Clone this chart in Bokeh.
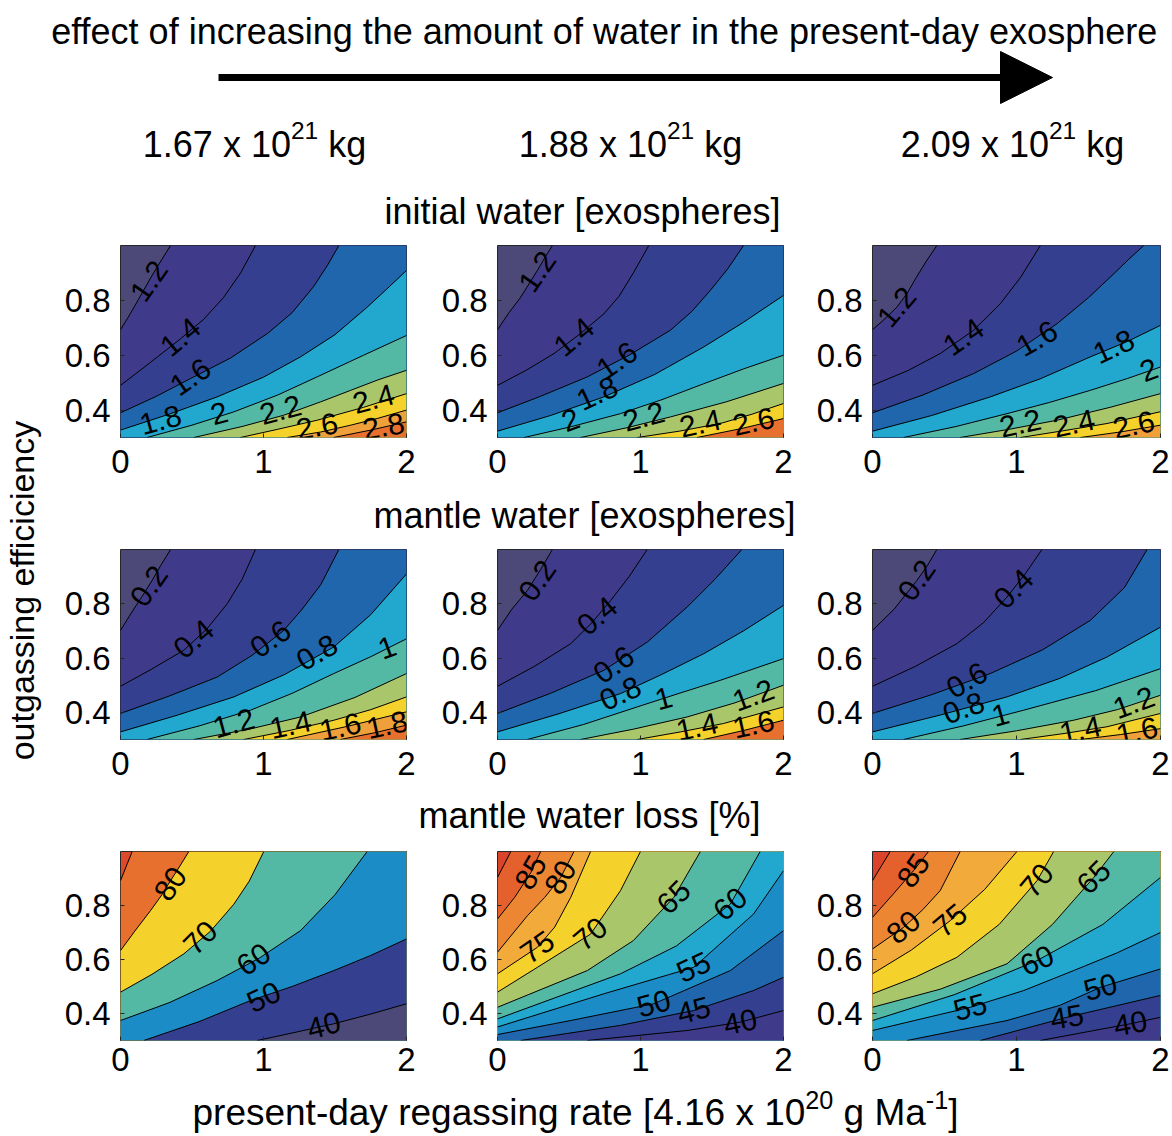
from bokeh.plotting import figure
from bokeh.layouts import row, column
from bokeh.models import Range1d, FixedTicker, Arrow, NormalHead
from bokeh.core.properties import value
from bokeh.embed import file_html
from bokeh.resources import INLINE

FONT = "Liberation Sans"

# ---------------- axes (shared by all nine panels) ----------------
X_TICKS = [0, 1, 2]
Y_TICKS = [0.4, 0.6, 0.8]
X_MIN, X_MAX = 0.0, 2.0
Y_MIN, Y_MAX = 0.3, 1.0

COL_HEADERS = [[("1.67 x 10", False), ("21", True), (" kg", False)],
               [("1.88 x 10", False), ("21", True), (" kg", False)],
               [("2.09 x 10", False), ("21", True), (" kg", False)]]
ROW_TITLES = ["initial water [exospheres]", "mantle water [exospheres]", "mantle water loss [%]"]
TITLE = "effect of increasing the amount of water in the present-day exosphere"
Y_LABEL = "outgassing efficiciency"
X_LABEL = [("present-day regassing rate [4.16 x 10", False), ("20", True), (" g Ma", False),
           ("-1", True), ("]", False)]

# ---------------- contour lines ----------------
# lines ordered from the top-left corner to the bottom-right corner
# ---- row 1: initial water [exospheres]
R1C1_LEVELS = [1.2, 1.4, 1.6, 1.8, 2.0, 2.2, 2.4, 2.6, 2.8]
R1C1_X = [[0, 0.05, 0.1, 0.16, 0.22, 0.29, 0.35],
          [0, 0.2, 0.42, 0.58, 0.72, 0.84, 0.944],
          [0, 0.25, 0.49, 0.77, 1.03, 1.2, 1.35, 1.45, 1.527],
          [0, 0.34, 0.676, 1.0, 1.259, 1.5, 1.725, 1.88, 2],
          [0.186, 0.5, 0.79, 1.1, 1.375, 1.7, 2],
          [0.513, 0.85, 1.14, 1.4, 1.61, 1.8, 2],
          [0.839, 1.1, 1.375, 1.7, 2],
          [1.166, 1.4, 1.61, 1.8, 2],
          [1.49, 1.75, 2]]
R1C1_Y = [[0.693, 0.735, 0.78, 0.835, 0.89, 0.95, 1.0],
          [0.49, 0.57, 0.66, 0.73, 0.81, 0.9, 1.0],
          [0.39, 0.45, 0.515, 0.59, 0.68, 0.755, 0.85, 0.93, 1.0],
          [0.327, 0.385, 0.448, 0.52, 0.594, 0.675, 0.775, 0.85, 0.909],
          [0.3, 0.345, 0.393, 0.455, 0.521, 0.6, 0.672],
          [0.3, 0.34, 0.381, 0.43, 0.472, 0.51, 0.545],
          [0.3, 0.33, 0.363, 0.41, 0.46],
          [0.3, 0.32, 0.345, 0.37, 0.4],
          [0.3, 0.327, 0.357]]
R1C1_LBL_T = ["1.2", "1.4", "1.6", "1.8", "2", "2.2", "2.4", "2.6", "2.8"]
R1C1_LBL_X = [0.2, 0.42, 0.49, 0.28, 0.69, 1.12, 1.77, 1.375, 1.84]
R1C1_LBL_Y = [0.87, 0.666, 0.52, 0.363, 0.387, 0.40, 0.44, 0.34, 0.34]
R1C1_LBL_A = [55, 40, 35, 15, 15, 15, 15, 10, 10]

R1C2_LEVELS = [1.2, 1.4, 1.6, 1.8, 2.0, 2.2, 2.4, 2.6]
R1C2_X = [[0, 0.08, 0.163, 0.22, 0.279, 0.33, 0.384],
          [0, 0.2, 0.395, 0.57, 0.744, 0.85, 0.95, 1.058],
          [0, 0.3, 0.628, 0.92, 1.209, 1.36, 1.488, 1.61, 1.721],
          [0, 0.37, 0.744, 1.1, 1.442, 1.72, 2],
          [0.186, 0.52, 0.86, 1.15, 1.442, 1.72, 2],
          [0.581, 0.9, 1.209, 1.6, 2],
          [0.977, 1.27, 1.558, 1.78, 2],
          [1.395, 1.7, 2]]
R1C2_Y = [[0.693, 0.755, 0.812, 0.86, 0.909, 0.955, 1.0],
          [0.49, 0.545, 0.606, 0.675, 0.751, 0.815, 0.9, 1.0],
          [0.39, 0.45, 0.521, 0.6, 0.691, 0.76, 0.836, 0.915, 1.0],
          [0.323, 0.38, 0.448, 0.53, 0.63, 0.72, 0.818],
          [0.3, 0.34, 0.387, 0.438, 0.496, 0.55, 0.6],
          [0.3, 0.335, 0.375, 0.43, 0.497],
          [0.3, 0.323, 0.351, 0.385, 0.424],
          [0.3, 0.332, 0.369]]
R1C2_LBL_T = ["1.2", "1.4", "1.6", "1.8", "2", "2.2", "2.4", "2.6"]
R1C2_LBL_X = [0.279, 0.535, 0.837, 0.698, 0.512, 1.023, 1.419, 1.79]
R1C2_LBL_Y = [0.905, 0.666, 0.58, 0.46, 0.363, 0.375, 0.351, 0.357]
R1C2_LBL_A = [55, 40, 35, 25, 20, 15, 12, 12]

R1C3_LEVELS = [1.2, 1.4, 1.6, 1.8, 2.0, 2.2, 2.4, 2.6]
R1C3_X = [[0, 0.08, 0.169, 0.24, 0.3, 0.37, 0.447],
          [0, 0.25, 0.47, 0.7, 0.888, 1.03, 1.166],
          [0, 0.35, 0.702, 1.0, 1.282, 1.5, 1.676, 1.78, 1.884],
          [0, 0.41, 0.818, 1.17, 1.513, 1.77, 2],
          [0.216, 0.58, 0.934, 1.23, 1.513, 1.77, 2],
          [0.609, 0.95, 1.282, 1.65, 2],
          [1.027, 1.33, 1.629, 2],
          [1.444, 1.72, 2]]
R1C3_Y = [[0.693, 0.73, 0.775, 0.825, 0.88, 0.94, 1.0],
          [0.49, 0.545, 0.606, 0.69, 0.788, 0.885, 1.0],
          [0.39, 0.455, 0.533, 0.615, 0.715, 0.81, 0.897, 0.95, 1.0],
          [0.323, 0.38, 0.448, 0.515, 0.594, 0.65, 0.709],
          [0.3, 0.34, 0.387, 0.428, 0.472, 0.515, 0.557],
          [0.3, 0.33, 0.363, 0.41, 0.46],
          [0.3, 0.325, 0.351, 0.394],
          [0.3, 0.32, 0.345]]
R1C3_LBL_T = ["1.2", "1.4", "1.6", "1.8", "2", "2.2", "2.4", "2.6"]
R1C3_LBL_X = [0.169, 0.633, 1.143, 1.676, 1.919, 1.027, 1.4, 1.815]
R1C3_LBL_Y = [0.775, 0.666, 0.66, 0.63, 0.545, 0.351, 0.351, 0.345]
R1C3_LBL_A = [50, 35, 30, 25, 20, 12, 12, 12]

# ---- row 2: mantle water [exospheres]
R2C1_LEVELS = [0.2, 0.4, 0.6, 0.8, 1.0, 1.2, 1.4, 1.6, 1.8]
R2C1_X = [[0, 0.08, 0.163, 0.22, 0.28, 0.35],
          [0, 0.22, 0.443, 0.6, 0.746, 0.85, 0.944],
          [0, 0.34, 0.676, 0.92, 1.142, 1.27, 1.4, 1.527],
          [0, 0.4, 0.793, 1.15, 1.492, 1.75, 2],
          [0.186, 0.55, 0.909, 1.2, 1.492, 1.75, 2],
          [0.513, 0.9, 1.259, 1.64, 2],
          [0.862, 1.18, 1.492, 1.75, 2],
          [1.166, 1.6, 2],
          [1.538, 1.78, 2]]
R2C1_Y = [[0.702, 0.77, 0.837, 0.885, 0.94, 1.0],
          [0.496, 0.56, 0.629, 0.705, 0.8, 0.89, 1.0],
          [0.396, 0.46, 0.53, 0.61, 0.702, 0.78, 0.87, 1.0],
          [0.328, 0.39, 0.457, 0.54, 0.641, 0.76, 0.91],
          [0.3, 0.35, 0.408, 0.47, 0.543, 0.605, 0.671],
          [0.3, 0.338, 0.383, 0.455, 0.543],
          [0.3, 0.333, 0.371, 0.41, 0.457],
          [0.3, 0.35, 0.402],
          [0.3, 0.325, 0.353]]
R2C1_LBL_T = ["0.2", "0.4", "0.6", "0.8", "1", "1.2", "1.4", "1.6", "1.8"]
R2C1_LBL_X = [0.2, 0.513, 1.05, 1.375, 1.865, 0.793, 1.189, 1.538, 1.865]
R2C1_LBL_Y = [0.865, 0.67, 0.67, 0.62, 0.638, 0.359, 0.353, 0.346, 0.353]
R2C1_LBL_A = [55, 40, 35, 30, 20, 15, 12, 12, 12]

R2C2_LEVELS = [0.2, 0.4, 0.6, 0.8, 1.0, 1.2, 1.4, 1.6]
R2C2_X = [[0, 0.1, 0.209, 0.3, 0.384],
          [0, 0.26, 0.512, 0.66, 0.791, 0.92, 1.047],
          [0, 0.37, 0.744, 1.05, 1.326, 1.52, 1.709],
          [0, 0.43, 0.86, 1.15, 1.442, 1.72, 2],
          [0.209, 0.6, 0.977, 1.27, 1.558, 2],
          [0.581, 0.95, 1.326, 1.66, 2],
          [0.977, 1.28, 1.581, 2],
          [1.442, 1.72, 2]]
R2C2_Y = [[0.702, 0.78, 0.849, 0.925, 1.0],
          [0.496, 0.57, 0.653, 0.73, 0.812, 0.9, 1.0],
          [0.396, 0.47, 0.555, 0.66, 0.788, 0.89, 1.0],
          [0.328, 0.395, 0.469, 0.54, 0.616, 0.7, 0.794],
          [0.3, 0.355, 0.42, 0.47, 0.518, 0.598],
          [0.3, 0.338, 0.383, 0.435, 0.5],
          [0.3, 0.328, 0.359, 0.42],
          [0.3, 0.333, 0.371]]
R2C2_LBL_T = ["0.2", "0.4", "0.6", "0.8", "1", "1.2", "1.4", "1.6"]
R2C2_LBL_X = [0.279, 0.698, 0.814, 0.86, 1.163, 1.79, 1.395, 1.79]
R2C2_LBL_Y = [0.885, 0.755, 0.575, 0.469, 0.45, 0.462, 0.346, 0.355]
R2C2_LBL_A = [55, 40, 35, 25, 15, 20, 12, 12]

R2C3_LEVELS = [0.2, 0.4, 0.6, 0.8, 1.0, 1.2, 1.4, 1.6]
R2C3_X = [[0, 0.15, 0.308, 0.38, 0.447],
          [0, 0.3, 0.586, 0.77, 0.934, 1.06, 1.177],
          [0, 0.41, 0.818, 1.18, 1.513, 1.75, 1.907],
          [0, 0.47, 0.934, 1.3, 1.629, 2],
          [0.216, 0.63, 1.05, 1.55, 2],
          [0.609, 1.0, 1.397, 1.7, 2],
          [1.027, 1.33, 1.629, 2],
          [1.444, 1.72, 2]]
R2C3_Y = [[0.702, 0.78, 0.886, 0.94, 1.0],
          [0.496, 0.57, 0.653, 0.73, 0.825, 0.91, 1.0],
          [0.396, 0.465, 0.543, 0.63, 0.739, 0.86, 1.0],
          [0.328, 0.39, 0.457, 0.525, 0.604, 0.714],
          [0.3, 0.35, 0.408, 0.48, 0.561],
          [0.3, 0.332, 0.371, 0.41, 0.463],
          [0.3, 0.322, 0.347, 0.396],
          [0.3, 0.318, 0.34]]
R2C3_LBL_T = ["0.2", "0.4", "0.6", "0.8", "1", "1.2", "1.4", "1.6"]
R2C3_LBL_X = [0.308, 0.98, 0.656, 0.633, 0.888, 1.815, 1.444, 1.838]
R2C3_LBL_Y = [0.886, 0.855, 0.518, 0.415, 0.39, 0.435, 0.335, 0.33]
R2C3_LBL_A = [55, 45, 30, 20, 15, 20, 12, 12]

# ---- row 3: mantle water loss [%]
R3C1_LEVELS = [90, 80, 70, 60, 50, 40]
R3C1_X = [[0, 0.04, 0.082],
          [0, 0.1, 0.21, 0.29, 0.35, 0.42, 0.478],
          [0, 0.22, 0.443, 0.63, 0.793, 0.9, 1.002],
          [0, 0.34, 0.676, 0.97, 1.259, 1.5, 1.725],
          [0.163, 0.55, 0.909, 1.2, 1.492, 1.75, 2],
          [0.956, 1.22, 1.492, 1.75, 2]]
R3C1_Y = [[0.892, 0.945, 1.0],
          [0.633, 0.705, 0.781, 0.84, 0.892, 0.95, 1.0],
          [0.479, 0.545, 0.621, 0.705, 0.805, 0.89, 1.0],
          [0.374, 0.44, 0.522, 0.605, 0.707, 0.84, 1.0],
          [0.3, 0.37, 0.448, 0.5, 0.559, 0.615, 0.676],
          [0.3, 0.33, 0.362, 0.398, 0.436]]
R3C1_LBL_T = ["80", "70", "60", "50", "40"]
R3C1_LBL_X = [0.35, 0.56, 0.932, 1.002, 1.422]
R3C1_LBL_Y = [0.88, 0.68, 0.6, 0.46, 0.355]
R3C1_LBL_A = [55, 45, 35, 25, 15]

R3C2_LEVELS = [90, 85, 80, 75, 70, 65, 60, 55, 50, 45, 40]
R3C2_X = [[0, 0.045, 0.093],
          [0, 0.12, 0.233, 0.302],
          [0, 0.209, 0.33, 0.442, 0.535],
          [0, 0.279, 0.4, 0.512, 0.651],
          [0, 0.279, 0.651, 0.86, 1.0],
          [0, 0.628, 0.95, 1.233, 1.419],
          [0, 0.86, 1.25, 1.628, 1.837],
          [0, 0.744, 1.372, 1.79, 2],
          [0, 0.512, 1.093, 1.628, 2],
          [0.163, 0.86, 1.372, 1.79, 2],
          [0.628, 1.326, 1.698, 2]]
R3C2_Y = [[0.904, 0.95, 1.0],
          [0.75, 0.83, 0.922, 1.0],
          [0.627, 0.762, 0.83, 0.904, 1.0],
          [0.547, 0.645, 0.72, 0.83, 1.0],
          [0.479, 0.571, 0.694, 0.855, 1.0],
          [0.423, 0.559, 0.67, 0.83, 1.0],
          [0.38, 0.547, 0.65, 0.805, 1.0],
          [0.35, 0.473, 0.571, 0.768, 0.929],
          [0.322, 0.374, 0.436, 0.559, 0.707],
          [0.3, 0.356, 0.411, 0.485, 0.534],
          [0.3, 0.337, 0.368, 0.411]]
R3C2_LBL_T = ["85", "80", "75", "70", "65", "60", "55", "50", "45", "40"]
R3C2_LBL_X = [0.233, 0.442, 0.279, 0.651, 1.233, 1.628, 1.372, 1.093, 1.372, 1.698]
R3C2_LBL_Y = [0.922, 0.904, 0.645, 0.694, 0.83, 0.805, 0.571, 0.436, 0.411, 0.368]
R3C2_LBL_A = [60, 60, 35, 40, 45, 40, 25, 15, 15, 12]

R3C3_LEVELS = [90, 85, 80, 75, 70, 65, 60, 55, 50, 45, 40]
R3C3_X = [[0, 0.06, 0.123],
          [0, 0.14, 0.285, 0.389],
          [0, 0.216, 0.35, 0.47, 0.609],
          [0, 0.27, 0.54, 0.78, 1.003],
          [0, 0.3, 0.586, 0.88, 1.143, 1.258],
          [0, 0.47, 0.934, 1.25, 1.537, 1.676],
          [0, 0.57, 1.143, 1.6, 2],
          [0, 0.679, 1.05, 1.397, 1.7, 2],
          [0.239, 0.934, 1.3, 1.583, 2],
          [0.749, 1.351, 2],
          [1.166, 1.791, 2]]
R3C3_Y = [[0.892, 0.945, 1.0],
          [0.756, 0.84, 0.929, 1.0],
          [0.639, 0.719, 0.785, 0.855, 1.0],
          [0.547, 0.635, 0.744, 0.86, 1.0],
          [0.473, 0.535, 0.608, 0.73, 0.892, 1.0],
          [0.423, 0.49, 0.584, 0.73, 0.904, 1.0],
          [0.374, 0.47, 0.596, 0.73, 0.904],
          [0.337, 0.423, 0.485, 0.559, 0.625, 0.7],
          [0.3, 0.374, 0.43, 0.497, 0.565],
          [0.3, 0.386, 0.467],
          [0.3, 0.362, 0.386]]
R3C3_LBL_T = ["85", "80", "75", "70", "65", "60", "55", "50", "45", "40"]
R3C3_LBL_X = [0.285, 0.216, 0.54, 1.143, 1.537, 1.143, 0.679, 1.583, 1.351, 1.791]
R3C3_LBL_Y = [0.929, 0.719, 0.744, 0.892, 0.904, 0.596, 0.423, 0.497, 0.386, 0.362]
R3C3_LBL_A = [55, 40, 40, 50, 45, 25, 15, 15, 10, 10]

# ---------------- colours (bands from top-left to bottom-right) ----------------
GP, PU, IN, BL = "#4c4979", "#403a8b", "#34408f", "#1f66ac"
CB, CY, TE, YG = "#1b8cc6", "#22a7cf", "#53b9a4", "#a9c76a"
YE, OR, RO, RD = "#f4d12b", "#efa03b", "#e8702f", "#db4a2b"
R90, R85, R80, R75 = "#d9442a", "#e4602d", "#ec8633", "#f2ab3b"
C_R1C1 = [GP, PU, IN, BL, CY, TE, YG, YE, OR, RO]
C_R1C2 = [GP, PU, IN, BL, CY, TE, YG, YE, RO]
C_R1C3 = [GP, PU, IN, BL, CY, TE, YG, YE, OR]
C_R2C1 = [GP, PU, IN, BL, CY, TE, YG, YE, OR, RO]
C_R2C2 = [GP, PU, IN, BL, CY, TE, YG, YE, RO]
C_R2C3 = [GP, PU, IN, BL, CY, TE, YG, YE, OR]
C_R3C1 = [RD, RO, YE, TE, CB, IN, GP]
C_R3C2 = [R90, R85, R80, R75, YE, YG, TE, CY, CB, BL, IN, PU]
C_R3C3 = [R90, R85, R80, R75, YE, YG, TE, CY, CB, BL, IN, PU]

# ---------------- helpers ----------------
ADV = {' ': 278, '-': 333, '.': 278, '[': 278, ']': 278, '%': 889, 'M': 833,
       'a': 556, 'b': 556, 'c': 500, 'd': 556, 'e': 556, 'f': 278, 'g': 556, 'h': 556,
       'i': 222, 'j': 222, 'k': 500, 'l': 222, 'm': 833, 'n': 556, 'o': 556, 'p': 556,
       'q': 556, 'r': 333, 's': 500, 't': 278, 'u': 556, 'v': 500, 'w': 722, 'x': 500,
       'y': 500, 'z': 500}
MID = 0.35  # distance from baseline to the middle of the em box, in em


def text_w(s, size):
    return sum(ADV.get(ch, 556) for ch in s) * size / 1000.0


def rich_text(p, pieces, cx, base, size, sup_scale=0.68, rise=0.5):
    sizes = [size * sup_scale if sup else size for _, sup in pieces]
    total = sum(text_w(t, fs) for (t, _), fs in zip(pieces, sizes))
    x = cx - total / 2.0
    for (t, sup), fs in zip(pieces, sizes):
        stripped = t.lstrip(' ')
        x += text_w(t[:len(t) - len(stripped)], fs)
        b = base + size * rise if sup else base
        p.text(x=[x], y=[b + MID * fs], text=[stripped], text_font=value(FONT),
               text_font_size=f"{fs:.1f}px", text_align="left", text_baseline="middle",
               text_color="black")
        x += text_w(stripped, fs)


def blank(w, h):
    p = figure(width=w, height=h, x_range=Range1d(0, w), y_range=Range1d(0, h),
               toolbar_location=None, output_backend="svg", x_axis_type=None, y_axis_type=None,
               min_border=0)
    p.outline_line_color = None
    p.grid.visible = False
    return p


def panel(xs, ys, colors, lt, lx, ly, la, width, height, bl, br, bt, bb, standoff):
    p = figure(width=width, height=height, x_range=Range1d(X_MIN, X_MAX),
               y_range=Range1d(Y_MIN, Y_MAX), toolbar_location=None, output_backend="svg",
               min_border_left=bl, min_border_right=br, min_border_top=bt, min_border_bottom=bb)
    p.background_fill_color = colors[0]
    p.grid.visible = False
    p.outline_line_color = "#262626"
    p.outline_line_width = 1
    polys_x, polys_y = [], []
    for lxs, lys in zip(xs, ys):
        px, py = list(lxs), list(lys)
        if lys[-1] >= Y_MAX - 1e-6:
            px.append(X_MAX); py.append(Y_MAX)
        px.append(X_MAX); py.append(Y_MIN)
        if lxs[0] <= X_MIN + 1e-6:
            px.append(X_MIN); py.append(Y_MIN)
        polys_x.append(px); polys_y.append(py)
    p.patches(xs=polys_x, ys=polys_y, fill_color=colors[1:], line_color=None)
    p.multi_line(xs=xs, ys=ys, line_color="black", line_width=1)
    p.text(x=lx, y=ly, text=lt, angle=la, angle_units="deg", text_font=value(FONT),
           text_font_size="30px", text_align="center", text_baseline="middle",
           text_color="black")
    p.xaxis.ticker = FixedTicker(ticks=X_TICKS)
    p.yaxis.ticker = FixedTicker(ticks=Y_TICKS)
    for ax in (p.xaxis[0], p.yaxis[0]):
        ax.axis_line_color = None
        ax.major_tick_in = 4
        ax.major_tick_out = 0
        ax.major_tick_line_color = "#262626"
        ax.minor_tick_line_color = None
        ax.major_label_text_font = FONT
        ax.major_label_text_font_size = "33px"
        ax.major_label_text_color = "black"
    p.xaxis.major_label_standoff = standoff
    p.yaxis.major_label_standoff = 10
    return p


# ---------------- layout (page pixels) ----------------
COL_W = [364, 375, 373]
COL_BL = [62, 75, 75]
COL_BR = [16, 14, 10]
ROW_H = [258, 254, 249]
ROW_BT = [13, 13, 15]
ROW_BB = [53, 51, 45]
ROW_STANDOFF = [12, 12, 7]

panels_data = [
    [(R1C1_X, R1C1_Y, C_R1C1, R1C1_LBL_T, R1C1_LBL_X, R1C1_LBL_Y, R1C1_LBL_A),
     (R1C2_X, R1C2_Y, C_R1C2, R1C2_LBL_T, R1C2_LBL_X, R1C2_LBL_Y, R1C2_LBL_A),
     (R1C3_X, R1C3_Y, C_R1C3, R1C3_LBL_T, R1C3_LBL_X, R1C3_LBL_Y, R1C3_LBL_A)],
    [(R2C1_X, R2C1_Y, C_R2C1, R2C1_LBL_T, R2C1_LBL_X, R2C1_LBL_Y, R2C1_LBL_A),
     (R2C2_X, R2C2_Y, C_R2C2, R2C2_LBL_T, R2C2_LBL_X, R2C2_LBL_Y, R2C2_LBL_A),
     (R2C3_X, R2C3_Y, C_R2C3, R2C3_LBL_T, R2C3_LBL_X, R2C3_LBL_Y, R2C3_LBL_A)],
    [(R3C1_X, R3C1_Y, C_R3C1, R3C1_LBL_T, R3C1_LBL_X, R3C1_LBL_Y, R3C1_LBL_A),
     (R3C2_X, R3C2_Y, C_R3C2, R3C2_LBL_T, R3C2_LBL_X, R3C2_LBL_Y, R3C2_LBL_A),
     (R3C3_X, R3C3_Y, C_R3C3, R3C3_LBL_T, R3C3_LBL_X, R3C3_LBL_Y, R3C3_LBL_A)],
]

rows = []
for r in range(3):
    figs = []
    for c in range(3):
        xs, ys, cols, lt, lx, ly, la = panels_data[r][c]
        figs.append(panel(xs, ys, cols, lt, lx, ly, la, COL_W[c], ROW_H[r],
                          COL_BL[c], COL_BR[c], ROW_BT[r], ROW_BB[r], ROW_STANDOFF[r]))
    rows.append(row(*figs, spacing=0))

LEFT_W = 58
TOTAL_W = LEFT_W + sum(COL_W)
RIGHT_W = TOTAL_W - LEFT_W
FS = 36

# header (page y 0..232)
HEAD_H = 232
header = blank(TOTAL_W, HEAD_H)
rich_text(header, [(TITLE, False)], 604, HEAD_H - 44, FS)
header.add_layout(Arrow(end=NormalHead(size=52, fill_color="black", line_color="black"),
                        x_start=218, y_start=HEAD_H - 77, x_end=1052, y_end=HEAD_H - 77,
                        line_width=7, line_color="black"))
for cx, pieces in zip([254, 630, 1012], COL_HEADERS):
    rich_text(header, pieces, cx, HEAD_H - 157, FS)
rich_text(header, [(ROW_TITLES[0], False)], 582, HEAD_H - 224, FS)

t2 = blank(RIGHT_W, 46)          # page y 490..536
rich_text(t2, [(ROW_TITLES[1], False)], 584 - LEFT_W, 536 - 528, FS)
t3 = blank(RIGHT_W, 46)          # page y 790..836
rich_text(t3, [(ROW_TITLES[2], False)], 589 - LEFT_W, 836 - 828, FS)
xlab = blank(RIGHT_W, 49)        # page y 1085..1134
rich_text(xlab, X_LABEL, 575 - LEFT_W, 1134 - 1125, 37, rise=0.45)

YL_H = 1134 - HEAD_H             # page y 232..1134
YFS = 34
ylab = blank(LEFT_W, YL_H)
ylab.text(x=[33 - MID * YFS], y=[1134 - 590], text=[Y_LABEL], angle=[90], angle_units="deg",
          text_font=value(FONT), text_font_size=f"{YFS}px", text_align="center",
          text_baseline="middle", text_color="black")

right = column(rows[0], t2, rows[1], t3, rows[2], xlab, spacing=0)
body = row(ylab, right, spacing=0)
root = column(header, body, spacing=0)

open("out.html", "w").write(file_html(root, INLINE))
